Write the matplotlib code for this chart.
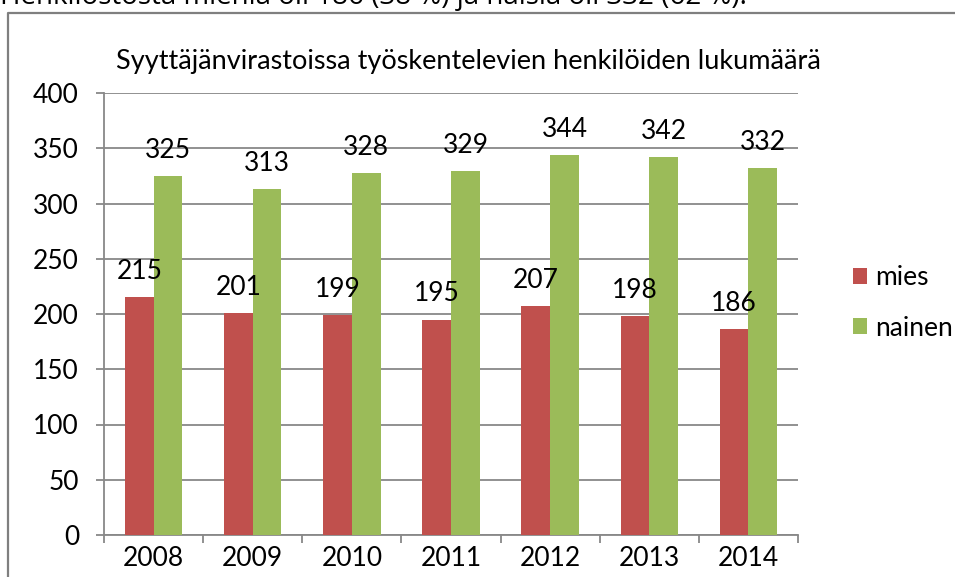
import matplotlib
matplotlib.use("Agg")
import matplotlib.pyplot as plt
from matplotlib.lines import Line2D
import numpy as np

years = ["2008", "2009", "2010", "2011", "2012", "2013", "2014"]
mies = [215, 201, 199, 195, 207, 198, 186]
nainen = [325, 313, 328, 329, 344, 342, 332]
series_names = ["mies", "nainen"]
title = "Syyttäjänvirastoissa työskentelevien henkilöiden lukumäärä"
top_text = "Henkilöstöstä miehiä oli 186 (38 %) ja naisia oli 332 (62 %)."

W, H = 955, 577
plt.rcParams['font.family'] = ['Lato', 'DejaVu Sans']
fig = plt.figure(figsize=(W / 100, H / 100), dpi=100)

def fx(px):
    return px / W

def fy(py):
    return 1 - py / H

FS = 19

# frame
fig.add_artist(Line2D([fx(8), fx(8), 1.0], [0.0, fy(12.5), fy(12.5)],
                      transform=fig.transFigure, color="#7f7f7f", lw=1.6))
# cut-off text at top
fig.text(fx(0), fy(4), top_text, family=['Open Sans', 'DejaVu Sans'],
         fontsize=20, va='baseline', ha='left', color='black')

ax = fig.add_axes([fx(104), fy(535), fx(798) - fx(104), (535 - 93) / H])
x = np.arange(len(years))
w = 0.29
red = "#C0504D"
green = "#9BBB59"
b1 = ax.bar(x - w / 2, mies, w, color=red, label=series_names[0], zorder=3)
b2 = ax.bar(x + w / 2, nainen, w, color=green, label=series_names[1], zorder=3)

for xi, v in zip(x - w / 2, mies):
    ax.annotate(str(v), (xi, v), xytext=(0, 13), textcoords='offset points',
                ha='center', va='baseline', fontsize=FS)
for xi, v in zip(x + w / 2, nainen):
    ax.annotate(str(v), (xi, v), xytext=(0, 13), textcoords='offset points',
                ha='center', va='baseline', fontsize=FS)

ax.set_xlim(-0.5, len(years) - 0.5)
ax.set_ylim(0, 400)
ax.set_yticks(range(0, 401, 50))
ax.set_xticks(x)
ax.set_xticklabels(years)
ax.set_xticks(np.arange(-0.5, len(years), 1), minor=True)
grid_c = "#888888"
ax.yaxis.grid(True, color=grid_c, lw=1.3, zorder=0)
ax.set_axisbelow(True)
for s in ["top", "right"]:
    ax.spines[s].set_visible(False)
for s in ["left", "bottom"]:
    ax.spines[s].set_color(grid_c)
    ax.spines[s].set_linewidth(1.3)
ax.tick_params(axis='y', length=6, width=1.3, color=grid_c, pad=12, labelsize=FS)
ax.tick_params(axis='x', which='major', length=0, pad=8, labelsize=FS)
ax.tick_params(axis='x', which='minor', length=6, width=1.3, color=grid_c)

fig.text(fx(468), fy(62), title, ha='center', va='center', fontsize=19.5)

leg = ax.legend(handles=[b1, b2], loc='center left',
                bbox_to_anchor=(fx(845), fy(303)), bbox_transform=fig.transFigure,
                frameon=False, fontsize=FS, handlelength=0.55, handleheight=0.55,
                handletextpad=0.3, labelspacing=0.95, borderaxespad=0, borderpad=0.3)

fig.savefig("out.png", dpi=100)
